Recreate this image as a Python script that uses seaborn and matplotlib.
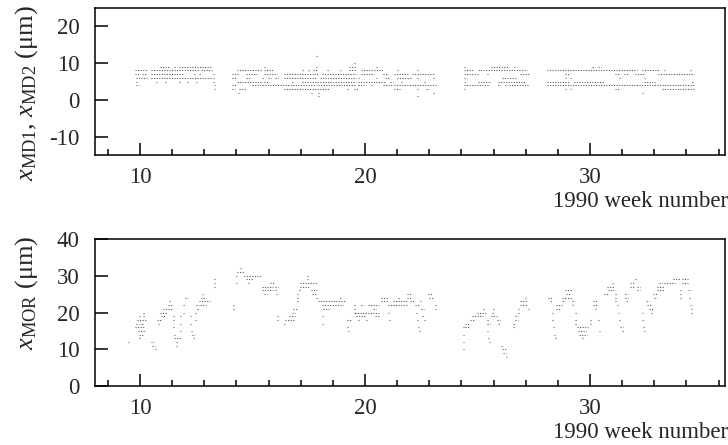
import numpy as np
import pandas as pd
import matplotlib
matplotlib.use("Agg")
import matplotlib.pyplot as plt
from matplotlib.ticker import MultipleLocator, FixedLocator, NullLocator
import seaborn as sns

# ---------------------------------------------------------------------------
# MD1/MD2 readings (um): stretches of weeks during which each reading was held
# ---------------------------------------------------------------------------
MD_L12 = [(17.80, 17.85)]
MD_L10 = [(19.50, 19.55)]
MD_L9 = [(10.90, 11.35), (11.50, 11.60), (11.75, 13.20), (15.50, 15.55),
         (17.80, 17.85), (19.30, 19.60), (20.50, 20.55), (24.40, 24.45),
         (25.60, 26.40), (26.60, 26.65), (30.10, 30.20), (30.35, 30.50)]
MD_L8 = [(9.78, 10.30), (10.50, 12.00), (12.10, 12.60), (12.70, 13.20),
         (14.30, 15.40), (15.50, 15.90), (17.20, 17.30), (17.45, 17.55),
         (17.70, 17.85), (18.30, 18.40), (18.90, 18.95), (19.30, 19.60),
         (19.80, 20.80), (21.40, 21.45), (22.30, 22.35), (24.40, 24.80),
         (25.00, 27.20), (28.10, 32.10), (32.30, 33.10), (33.30, 33.35),
         (34.45, 34.55)]
MD_L7 = [(9.78, 9.96), (10.10, 10.30), (10.50, 11.90), (12.40, 12.45),
         (12.60, 12.70), (13.25, 13.30), (14.10, 14.40), (14.70, 15.20),
         (15.50, 16.10), (16.40, 17.70), (17.75, 17.95), (18.10, 19.60),
         (19.80, 20.40), (20.80, 21.00), (21.30, 21.90), (22.10, 23.10),
         (24.40, 25.00), (25.40, 25.45), (26.90, 27.30), (28.90, 29.10),
         (31.10, 31.30), (31.50, 31.70), (32.00, 32.40), (33.00, 34.60)]
MD_L6 = [(9.80, 10.30), (10.50, 13.20), (13.25, 13.30), (14.10, 14.25),
         (14.70, 14.90), (15.40, 15.50), (15.70, 15.80), (16.00, 16.15),
         (16.40, 17.80), (18.00, 19.60), (19.70, 19.75), (20.50, 20.55),
         (20.90, 21.10), (21.40, 22.10), (22.30, 22.35), (23.00, 23.10),
         (24.40, 24.45), (26.10, 26.70), (28.90, 28.95), (29.10, 29.15),
         (31.30, 31.35), (32.40, 32.45)]
MD_L5 = [(9.80, 9.85), (10.70, 10.75), (11.10, 11.15), (11.75, 11.80),
         (12.10, 12.15), (12.50, 12.55), (13.25, 13.30), (14.30, 15.40),
         (15.50, 15.70), (16.75, 16.85), (17.20, 19.60), (19.70, 20.90),
         (21.10, 21.25), (21.60, 21.65), (22.60, 22.65), (24.40, 24.45),
         (25.00, 25.60), (25.90, 27.10), (28.10, 29.10), (29.30, 30.60),
         (32.40, 32.90), (34.55, 34.60)]
MD_L4 = [(9.80, 9.95), (13.30, 13.35), (14.10, 14.25), (14.96, 16.20),
         (16.20, 17.80), (17.90, 19.60), (19.70, 19.95), (20.25, 20.30),
         (20.80, 21.20), (21.30, 23.20), (24.40, 25.50), (25.90, 25.95),
         (26.20, 26.25), (26.40, 27.30), (28.10, 34.60)]
MD_L3 = [(13.30, 13.35), (14.10, 14.20), (14.40, 14.70), (16.40, 18.40),
         (19.20, 19.30), (19.50, 19.70), (21.30, 21.55), (22.30, 22.35),
         (22.70, 22.85), (24.40, 24.45), (28.90, 28.95), (29.10, 29.15),
         (31.10, 31.35), (33.20, 34.60)]
MD_L2 = [(14.36, 14.40), (17.60, 17.65), (17.90, 17.95), (23.00, 23.05),
         (32.30, 32.35)]
MD_L1 = [(17.90, 17.95), (22.30, 22.35)]

MD_LEVELS = [12, 10, 9, 8, 7, 6, 5, 4, 3, 2, 1]
MD_STRETCHES = [MD_L12, MD_L10, MD_L9, MD_L8, MD_L7, MD_L6, MD_L5,
                MD_L4, MD_L3, MD_L2, MD_L1]

# ---------------------------------------------------------------------------
# MOR readings (um): (first week, last week, value) for each data-taking period
# ---------------------------------------------------------------------------
MOR_WEEKS_9_13 = [
    (9.45, 9.52, 12), (10.15, 10.20, 20), (9.95, 10.00, 19), (10.15, 10.20, 19),
    (9.85, 10.27, 18), (9.82, 9.90, 17), (10.00, 10.05, 17), (10.10, 10.15, 17),
    (9.78, 10.22, 16), (9.92, 10.22, 15), (9.96, 10.15, 14), (9.96, 10.00, 13),
    (10.50, 10.60, 12), (10.55, 10.65, 11), (10.65, 10.70, 10),
    (10.70, 10.72, 15), (10.70, 10.72, 14), (10.75, 10.96, 18), (10.78, 10.85, 17),
    (10.90, 11.20, 20), (10.95, 11.10, 19), (11.00, 11.40, 21), (11.26, 11.40, 22),
    (11.30, 11.35, 23), (11.45, 11.50, 19), (11.45, 11.50, 18), (11.48, 11.52, 16),
    (11.50, 11.55, 14), (11.50, 11.80, 13), (11.60, 11.70, 12), (11.60, 11.65, 11),
    (11.78, 11.82, 19), (11.78, 11.82, 17), (11.78, 11.82, 15), (11.90, 12.00, 22),
    (11.90, 11.95, 20), (11.98, 12.02, 23), (12.00, 12.15, 24), (12.20, 12.25, 19),
    (12.22, 12.27, 17), (12.25, 12.30, 15), (12.30, 12.45, 14), (12.35, 12.40, 13),
    (12.45, 12.50, 20), (12.45, 12.50, 18), (12.50, 12.60, 22), (12.55, 12.60, 21),
    (12.60, 13.10, 23), (12.65, 12.95, 22), (12.70, 12.90, 24), (12.75, 12.80, 25),
    (13.10, 13.13, 21), (13.10, 13.13, 19), (13.10, 13.13, 17),
    (13.30, 13.33, 29), (13.30, 13.33, 28), (13.30, 13.33, 27),
]
MOR_WEEKS_14_23 = [
    (14.15, 14.18, 22), (14.15, 14.18, 21), (14.27, 14.30, 30), (14.27, 14.30, 28),
    (14.33, 14.60, 31), (14.45, 14.50, 32), (14.60, 15.40, 30), (14.70, 15.00, 29),
    (14.80, 14.85, 28), (15.40, 15.42, 28), (15.78, 16.00, 28), (15.40, 15.90, 27),
    (15.40, 15.90, 26), (15.50, 15.65, 25), (16.00, 16.15, 27), (16.00, 16.10, 26),
    (16.05, 16.10, 25), (16.10, 16.15, 19), (16.10, 16.15, 18), (16.60, 16.90, 19),
    (16.45, 16.90, 18), (16.40, 16.45, 17), (16.75, 16.90, 20), (16.80, 16.96, 21),
    (16.96, 17.04, 25), (16.96, 17.00, 24), (16.98, 17.04, 23), (17.05, 17.15, 26),
    (17.10, 17.85, 28), (17.10, 17.50, 27), (17.40, 17.45, 30), (17.40, 17.45, 29),
    (17.60, 17.85, 26), (17.65, 17.85, 25), (17.80, 17.90, 24), (17.90, 19.10, 23),
    (18.10, 19.00, 22), (18.08, 18.12, 19), (18.08, 18.12, 17), (18.15, 18.40, 21),
    (18.90, 18.95, 24), (19.10, 19.12, 19), (19.20, 19.40, 18), (19.22, 19.30, 16),
    (19.25, 19.30, 15), (19.50, 19.60, 22), (19.50, 19.60, 21), (19.50, 19.60, 20),
    (19.80, 19.95, 22), (20.15, 20.60, 22), (20.35, 20.50, 21), (19.55, 20.60, 20),
    (19.60, 20.05, 19), (20.45, 20.60, 19), (19.70, 19.72, 18), (20.05, 20.08, 18),
    (20.00, 20.02, 17), (20.70, 21.00, 24), (20.70, 21.00, 23), (21.00, 21.20, 22),
    (21.00, 21.05, 20), (21.05, 21.10, 18), (21.25, 21.85, 23), (21.25, 21.85, 22),
    (21.45, 21.55, 24), (21.85, 22.07, 25), (21.85, 22.07, 24), (22.00, 22.20, 23),
    (22.20, 22.45, 22), (22.25, 22.30, 20), (22.30, 22.35, 18), (22.35, 22.40, 16),
    (22.40, 22.45, 15), (22.44, 22.50, 23), (22.50, 22.60, 21), (22.55, 22.62, 19),
    (22.60, 22.67, 18), (22.80, 23.00, 25), (22.85, 23.00, 24), (23.10, 23.20, 22),
    (23.10, 23.20, 21),
]
MOR_WEEKS_24_27 = [
    (24.35, 24.38, 16), (24.35, 24.38, 14), (24.35, 24.38, 12), (24.35, 24.38, 10),
    (24.44, 24.67, 17), (24.44, 24.60, 16), (24.67, 24.90, 18), (24.74, 25.26, 19),
    (24.96, 25.40, 20), (25.26, 25.30, 21), (25.40, 25.50, 18), (25.40, 25.56, 17),
    (25.40, 25.45, 15), (25.45, 25.50, 13), (25.50, 25.55, 12), (25.70, 25.75, 21),
    (25.65, 25.75, 20), (25.60, 25.85, 19), (25.85, 26.00, 18), (25.90, 26.00, 17),
    (26.03, 26.10, 11), (26.10, 26.25, 10), (26.15, 26.25, 9), (26.25, 26.30, 8),
    (26.56, 26.67, 17), (26.56, 26.62, 16), (26.67, 26.80, 19), (26.67, 26.80, 18),
    (26.80, 26.85, 21), (26.80, 26.85, 20), (26.90, 27.20, 23), (26.90, 27.20, 22),
    (27.10, 27.15, 24), (27.26, 27.30, 21),
]
MOR_WEEKS_28_35 = [
    (28.15, 28.30, 24), (28.20, 28.30, 23), (28.30, 28.35, 20), (28.32, 28.38, 18),
    (28.35, 28.40, 16), (28.40, 28.45, 14), (28.45, 28.50, 13), (28.50, 28.75, 22),
    (28.50, 28.70, 21), (28.75, 28.90, 24), (28.75, 28.90, 23), (28.90, 29.20, 26),
    (28.95, 29.15, 25), (28.90, 29.20, 24), (29.20, 29.30, 23), (29.20, 29.30, 22),
    (29.35, 29.40, 20), (29.35, 29.40, 18), (29.35, 29.40, 17), (29.40, 29.90, 16),
    (29.45, 29.80, 15), (29.50, 29.85, 14), (29.65, 29.70, 13), (30.00, 30.05, 18),
    (30.00, 30.05, 17), (30.15, 30.30, 23), (30.15, 30.30, 22), (30.20, 30.30, 21),
    (30.35, 30.40, 18), (30.38, 30.42, 16), (30.40, 30.45, 15), (30.60, 30.80, 25),
    (30.75, 31.05, 27), (30.80, 31.05, 26), (30.97, 31.04, 28), (31.10, 31.20, 25),
    (31.10, 31.20, 24), (31.12, 31.20, 23), (31.20, 31.25, 22), (31.25, 31.30, 20),
    (31.30, 31.35, 18), (31.35, 31.45, 16), (31.40, 31.50, 15), (31.56, 31.70, 25),
    (31.56, 31.70, 24), (31.60, 31.70, 23), (31.78, 32.00, 28), (31.78, 32.00, 27),
    (32.00, 32.10, 29), (32.10, 32.20, 27), (32.10, 32.20, 26), (32.30, 32.35, 20),
    (32.30, 32.40, 18), (32.35, 32.45, 16), (32.40, 32.45, 15), (32.50, 32.60, 23),
    (32.55, 32.70, 22), (32.60, 32.80, 21), (32.70, 32.80, 20), (32.80, 32.96, 25),
    (32.85, 32.96, 24), (32.96, 33.30, 27), (32.96, 33.30, 26), (33.05, 33.20, 28),
    (33.30, 33.78, 28), (33.70, 34.00, 29), (34.00, 34.07, 26), (34.00, 34.07, 25),
    (34.00, 34.07, 24), (34.07, 34.37, 29), (34.10, 34.37, 28), (34.37, 34.50, 26),
    (34.40, 34.50, 24), (34.45, 34.50, 22), (34.48, 34.52, 21), (34.48, 34.52, 20),
]

X_LIMITS = (8, 36)
X_MAJOR = [10, 20, 30]
MD_YLIM, MD_YTICKS = (-15, 25), [-10, 0, 10, 20]
MOR_YLIM, MOR_YTICKS = (0, 40), [0, 10, 20, 30, 40]
X_TITLE = "1990 week number"
MD_TITLE = r"$x_{\rm MD1}$, $x_{\rm MD2}$ (μm)"
MOR_TITLE = r"$x_{\rm MOR}$ (μm)"


def stretch_frame(stretches):
    """Long-form table: each held reading becomes a two-point segment."""
    rows = []
    for i, (w0, w1, v) in enumerate(stretches):
        rows.append((i, w0, v))
        rows.append((i, w1, v))
    return pd.DataFrame(rows, columns=["run", "week", "value"])


md_stretches = [(w0, w1, lvl)
                for lvl, spans in zip(MD_LEVELS, MD_STRETCHES)
                for (w0, w1) in spans]
mor_stretches = MOR_WEEKS_9_13 + MOR_WEEKS_14_23 + MOR_WEEKS_24_27 + MOR_WEEKS_28_35

md_df = stretch_frame(md_stretches)
mor_df = stretch_frame(mor_stretches)

sns.set_theme(style="ticks")
plt.rcParams["font.family"] = ["Liberation Serif", "DejaVu Serif"]
plt.rcParams["mathtext.fontset"] = "custom"
plt.rcParams["mathtext.rm"] = "Liberation Serif"
plt.rcParams["mathtext.it"] = "Liberation Serif:italic"
plt.rcParams["axes.linewidth"] = 1.1
plt.rcParams["axes.unicode_minus"] = False

FS = 16.5
YFS = 19
fig = plt.figure(figsize=(7.28, 4.45), dpi=100)
ax_md = fig.add_axes([0.1305, 0.6517, 0.8654, 0.3303])
ax_mor = fig.add_axes([0.1305, 0.1326, 0.8654, 0.3303])

line_kw = dict(units="run", estimator=None, sort=False, color="black",
               linewidth=0.8, alpha=0.65, linestyle=(0, (1.0, 1.3)), legend=False)
sns.lineplot(data=md_df, x="week", y="value", ax=ax_md, **line_kw)
sns.lineplot(data=mor_df, x="week", y="value", ax=ax_mor, **line_kw)

for ax, ylim, yticks, ytitle in [(ax_md, MD_YLIM, MD_YTICKS, MD_TITLE),
                                 (ax_mor, MOR_YLIM, MOR_YTICKS, MOR_TITLE)]:
    ax.set_xlim(*X_LIMITS)
    ax.set_ylim(*ylim)
    ax.xaxis.set_major_locator(FixedLocator(X_MAJOR))
    ax.xaxis.set_minor_locator(MultipleLocator(10 / 7))
    ax.yaxis.set_major_locator(FixedLocator(yticks))
    ax.yaxis.set_minor_locator(NullLocator())
    ax.tick_params(axis="both", which="both", direction="in",
                   top=False, right=False, labelsize=FS, color="black",
                   width=1.1)
    ax.tick_params(axis="x", which="major", length=8.5, pad=9)
    ax.tick_params(axis="x", which="minor", length=4.3)
    ax.tick_params(axis="y", which="major", length=9.5, pad=11)
    for s in ax.spines.values():
        s.set_visible(True)
        s.set_color("black")
    ax.set_xlabel(X_TITLE, fontsize=FS, ha="right")
    ax.xaxis.set_label_coords(1.005, -0.245)
    ax.set_ylabel(ytitle, fontsize=YFS, loc="top")
    ax.yaxis.set_label_coords(-0.088, 1.02)

fig.savefig("out.png", dpi=100, facecolor="white")
